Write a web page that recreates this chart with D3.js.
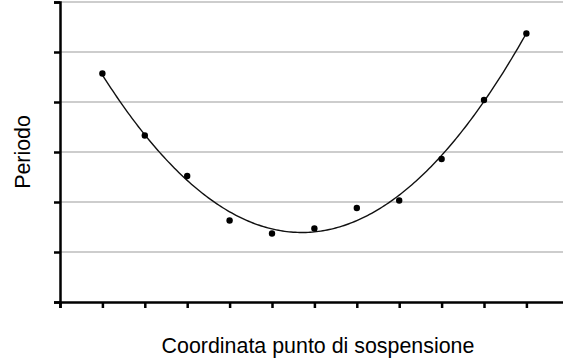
<!DOCTYPE html>
<meta charset="utf-8">
<script src="https://d3js.org/d3.v7.min.js"></script>
<style>
  body { margin: 0; background: #fff; }
  text { font-family: "Liberation Sans", Arial, sans-serif; fill: #000; }
</style>
<body>
<div id="visual"></div>
<script>

// measured points: position index along the axis and period (grid units)
var positions = [1, 2, 3, 4, 5, 6, 7, 8, 9, 10, 11];
var periods = [4.57, 3.33, 2.52, 1.63, 1.37, 1.47, 1.88, 2.03, 2.86, 4.04, 5.37];

var xTicks = [0, 1, 2, 3, 4, 5, 6, 7, 8, 9, 10, 11, 12];
var yTicks = [0, 1, 2, 3, 4, 5, 6];

var xLabel = "Coordinata punto di sospensione";
var yLabel = "Periodo";

var width = 563, height = 364;

var svg = d3.select("#visual")
  .append("svg")
    .attr("width", width)
    .attr("height", height);

var x = d3.scaleLinear()
  .domain([0, 12])
  .range([60, 60 + 12 * 42.4]);

var y = d3.scaleLinear()
  .domain([0, 6])
  .range([302, 2]);

// horizontal grid lines
svg.append("g")
  .selectAll("line")
  .data(yTicks.slice(1))
  .enter().append("line")
    .attr("x1", x(0))
    .attr("x2", width)
    .attr("y1", function(d) { return y(d) })
    .attr("y2", function(d) { return y(d) })
    .attr("stroke", "#bdbdbd")
    .attr("stroke-width", 1.3);

// Y axis
var yAxis = svg.append("g")
  .attr("transform", "translate(" + x(0) + ",0)")
  .call(d3.axisLeft(y).tickValues(yTicks).tickSize(6).tickFormat(""));

// X axis
var xAxis = svg.append("g")
  .attr("transform", "translate(0," + y(0) + ")")
  .call(d3.axisBottom(x).tickValues(xTicks).tickSize(6).tickFormat(""));

[xAxis, yAxis].forEach(function(a) {
  a.select(".domain").attr("stroke", "#000").attr("stroke-width", 2.5);
  a.selectAll(".tick line").attr("stroke", "#000").attr("stroke-width", 2.5);
});

// least squares quadratic trend line through the points
function polyFit(xs, ys, deg) {
  var n = deg + 1, A = [], i, j, k;
  for (i = 0; i < n; i++) {
    A.push([]);
    for (j = 0; j < n; j++) A[i].push(d3.sum(xs, function(v) { return Math.pow(v, i + j) }));
    A[i].push(d3.sum(xs, function(v, t) { return Math.pow(v, i) * ys[t] }));
  }
  for (i = 0; i < n; i++) {
    for (k = i + 1; k < n; k++) {
      var f = A[k][i] / A[i][i];
      for (j = i; j <= n; j++) A[k][j] -= f * A[i][j];
    }
  }
  var c = new Array(n);
  for (i = n - 1; i >= 0; i--) {
    var s = A[i][n];
    for (j = i + 1; j < n; j++) s -= A[i][j] * c[j];
    c[i] = s / A[i][i];
  }
  return c;
}

var coef = polyFit(positions, periods, 2);
var trend = d3.range(positions[0], positions[positions.length - 1] + 0.001, 0.05).map(function(t) {
  return [t, coef[0] + coef[1] * t + coef[2] * t * t];
});

svg.append("path")
  .datum(trend)
  .attr("fill", "none")
  .attr("stroke", "#111")
  .attr("stroke-width", 1.4)
  .attr("d", d3.line()
    .x(function(d) { return x(d[0]) })
    .y(function(d) { return y(d[1]) })
  );

// data points
svg.append("g")
  .selectAll("circle")
  .data(positions)
  .enter().append("circle")
    .attr("cx", function(d) { return x(d) })
    .attr("cy", function(d, i) { return y(periods[i]) })
    .attr("r", 3.2)
    .attr("fill", "#000");

// axis titles
svg.append("text")
  .attr("x", 318)
  .attr("y", 353)
  .attr("text-anchor", "middle")
  .style("font-size", "21.4px")
  .text(xLabel);

svg.append("text")
  .attr("transform", "translate(30,152) rotate(-90)")
  .attr("text-anchor", "middle")
  .style("font-size", "21.4px")
  .text(yLabel);

</script>
</body>
</html>
